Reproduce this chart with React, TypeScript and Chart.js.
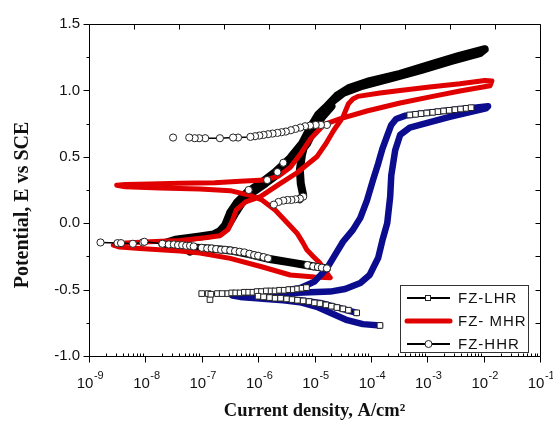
import React, { useEffect, useRef } from 'react';
import { Chart, registerables } from 'chart.js';

Chart.register(...registerables);

// ---------- axis ticks ----------
const xDecades = [1e-9, 1e-8, 1e-7, 1e-6, 1e-5, 1e-4, 1e-3, 1e-2, 1e-1];
const xExponents = ['-9', '-8', '-7', '-6', '-5', '-4', '-3', '-2', '-1'];
const yMajor = [-1, -0.5, 0, 0.5, 1, 1.5];
const yMinor = [-0.75, -0.25, 0.25, 0.75, 1.25];
const legendLabels = ['FZ-LHR', 'FZ- MHR', 'FZ-HHR'];

// ---------- FZ-LHR (blue thick trace) ----------
const lhrI = [
  1.45e-4, 7.2e-5, 3.8e-5, 1.9e-5, 1.1e-5, 5.5e-6, 2.8e-6, 1.4e-6, 9.5e-7, 4.8e-7, 3.5e-7,
  5.5e-7, 8.7e-7, 2.5e-6, 5.5e-6, 1.0e-5, 1.66e-5, 2.3e-5, 3.2e-5, 4.8e-5, 6.5e-5, 8.5e-5,
  1.1e-4, 1.35e-4, 1.6e-4, 1.95e-4, 2.3e-4, 2.8e-4, 4.1e-4, 7.4e-4, 2.5e-3, 5.7e-3, 1.2e-2,
  1.1e-2, 2.5e-3, 1.0e-3, 4.9e-4, 3.3e-4, 2.7e-4, 2.3e-4, 2.2e-4, 1.95e-4, 1.6e-4, 1.35e-4,
  9.5e-5, 6.5e-5, 3.5e-5, 1.9e-5, 8.3e-6, 3.7e-6, 1.6e-6, 7.2e-7, 4.5e-7,
  1.0e-6, 1.6e-6, 5.5e-6, 1.26e-5, 2.8e-5, 5.6e-5,
];
const lhrE = [
  -0.77, -0.76, -0.73, -0.675, -0.63, -0.595, -0.58, -0.57, -0.565, -0.555, -0.545,
  -0.53, -0.52, -0.51, -0.49, -0.44, -0.34, -0.24, -0.14, -0.05, 0.04, 0.17,
  0.33, 0.45, 0.56, 0.66, 0.74, 0.785, 0.81, 0.825, 0.85, 0.865, 0.88,
  0.865, 0.8, 0.755, 0.72, 0.665, 0.55, 0.36, 0.2, 0.0, -0.13, -0.26,
  -0.39, -0.45, -0.495, -0.515, -0.52, -0.525, -0.535, -0.545, -0.55,
  -0.555, -0.56, -0.58, -0.6, -0.64, -0.675,
];
// FZ-LHR square symbols (null = break)
const lhrSqI = [
  1.0e-7, 1.3e-7, 1.4e-7, 1.45e-7, 1.9e-7, 2.3e-7, 2.9e-7, 3.4e-7, 4.0e-7, 4.8e-7, 5.7e-7,
  6.8e-7, 8.1e-7, 9.6e-7, 1.15e-6, 1.4e-6, 1.7e-6, 2.0e-6, 2.4e-6, 2.9e-6, 3.5e-6, 4.2e-6,
  5.0e-6, 6.0e-6, 7.2e-6, null,
  1.0e-6, 1.25e-6, 1.6e-6, 2.0e-6, 2.5e-6, 3.2e-6, 4.0e-6, 5.0e-6, 6.3e-6, 8.0e-6, 1.0e-5,
  1.25e-5, 1.6e-5, 2.0e-5, 2.5e-5, 3.2e-5, 4.0e-5, 5.6e-5, null,
  4.9e-4, 6.2e-4, 7.8e-4, 9.8e-4, 1.25e-3, 1.55e-3, 1.95e-3, 2.45e-3, 3.1e-3, 3.9e-3, 4.9e-3,
  6.0e-3, null,
  1.45e-4,
];
const lhrSqE = [
  -0.53, -0.53, -0.575, -0.535, -0.53, -0.53, -0.53, -0.525, -0.525, -0.525, -0.52,
  -0.52, -0.52, -0.515, -0.515, -0.51, -0.51, -0.51, -0.505, -0.505, -0.5, -0.5,
  -0.495, -0.49, -0.485, null,
  -0.55, -0.555, -0.56, -0.565, -0.565, -0.57, -0.575, -0.58, -0.585, -0.59, -0.6,
  -0.605, -0.615, -0.625, -0.635, -0.645, -0.655, -0.675, null,
  0.815, 0.82, 0.825, 0.83, 0.835, 0.84, 0.845, 0.85, 0.855, 0.86, 0.865,
  0.87, null,
  -0.77,
];

// ---------- FZ-MHR (red) ----------
const mhrI = [
  1.9e-5, 1.0e-5, 3.7e-6, 1.2e-6, 3.2e-7, 9.3e-8, 4.1e-8, 1.8e-8, 8.0e-9, 3.5e-9, 2.7e-9,
  4.4e-9, 1.2e-8, 4.1e-8, 1.15e-7, 2.1e-7, 2.9e-7, 3.5e-7, 4.1e-7, 6.0e-7, 1.1e-6, 2.3e-6,
  4.9e-6, 1.1e-5, 1.6e-5, 2.2e-5, 3.2e-5, 4.0e-5, 4.8e-5, 5.9e-5, 1.45e-4, 3.3e-4, 1.1e-3,
  3.8e-3, 1.05e-2, 1.4e-2,
  1.3e-2, 3.8e-3, 1.25e-3, 3.3e-4, 8.5e-5, 2.8e-5, 1.5e-5, 8.3e-6, 5.5e-6, 3.7e-6, 2.3e-6,
  1.3e-6, 4.8e-7, 1.7e-7, 4.1e-8, 1.2e-8, 4.4e-9, 3.1e-9, 4.4e-9, 1.8e-8, 9.3e-8, 3.2e-7,
  7.2e-7, 1.17e-6, 2.0e-6, 2.95e-6, 4.9e-6, 6.3e-6, 7.3e-6, 9.5e-6, 1.25e-5, 1.5e-5, 1.9e-5,
];
const mhrE = [
  -0.41, -0.405, -0.39, -0.33, -0.265, -0.225, -0.21, -0.2, -0.19, -0.18, -0.165,
  -0.15, -0.14, -0.13, -0.11, -0.095, -0.05, 0.02, 0.1, 0.16, 0.2, 0.29,
  0.38, 0.5, 0.6, 0.7, 0.8, 0.9, 0.935, 0.955, 0.98, 1.0, 1.025,
  1.05, 1.075, 1.07,
  1.035, 0.995, 0.955, 0.905, 0.845, 0.785, 0.745, 0.63, 0.515, 0.42, 0.355,
  0.325, 0.315, 0.305, 0.3, 0.295, 0.292, 0.285, 0.275, 0.265, 0.258, 0.245,
  0.21, 0.175, 0.1, 0.024, -0.075, -0.15, -0.2, -0.25, -0.3, -0.35, -0.41,
];

// ---------- FZ-HHR (black thick trace, null = break) ----------
const hhrI = [
  1.66e-5, 8.3e-6, 3.7e-6, 1.6e-6, 7.2e-7, 3.2e-7, 1.4e-7, 8.0e-8, 6.2e-8, 5.0e-8, 3.0e-8,
  2.0e-8, 3.4e-8, 9.3e-8, 1.6e-7, 2.1e-7, 2.6e-7, 3.2e-7, 4.2e-7, 6.3e-7, 1.1e-6, 2.0e-6,
  3.7e-6, 6.0e-6, 8.3e-6, 1.15e-5, 1.66e-5, 2.5e-5, 4.2e-5, 9.5e-5, 3.3e-4, 1.25e-3, 3.7e-3,
  1.05e-2,
  8.6e-3, 2.6e-3, 7.4e-4, 2.7e-4, 1.2e-4, 6.5e-5, 3.2e-5, 1.9e-5, 1.15e-5, 9.0e-6, 7.0e-6,
  6.0e-6, 5.5e-6, 5.7e-6, 6.3e-6, 5.5e-6, null,
  2.9e-7, 4.0e-7, 5.2e-7, 7.8e-7, 1.35e-6, 2.5e-6, 4.6e-6, 7.4e-6, 1.0e-5, 1.4e-5, 2.0e-5,
];
const hhrE = [
  -0.34, -0.32, -0.295, -0.27, -0.235, -0.205, -0.19, -0.185, -0.215, -0.18, -0.165,
  -0.155, -0.125, -0.1, -0.085, -0.06, -0.015, 0.08, 0.155, 0.23, 0.3, 0.385,
  0.49, 0.6, 0.715, 0.805, 0.88, 0.96, 1.02, 1.07, 1.125, 1.2, 1.26,
  1.31,
  1.28, 1.22, 1.15, 1.1, 1.06, 1.03, 0.98, 0.905, 0.815, 0.74, 0.63,
  0.515, 0.4, 0.3, 0.21, 0.18, null,
  -0.02, 0.08, 0.155, 0.23, 0.3, 0.385, 0.49, 0.6, 0.715, 0.805, 0.88,
];
// FZ-HHR circle symbols (null = break)
const hhrCiI = [
  1.6e-9, 3.2e-9, 3.7e-9, 6.0e-9, 9.0e-9, 9.6e-9, 2.0e-8, 2.6e-8, 3.2e-8, 3.8e-8, 4.5e-8,
  5.3e-8, 6.2e-8, 7.2e-8, null,
  1.0e-7, 1.25e-7, 1.5e-7, 1.8e-7, 2.2e-7, 2.6e-7, 3.2e-7, 3.9e-7, 4.7e-7, 5.7e-7, 7.0e-7,
  8.5e-7, 1.0e-6, 1.25e-6, 1.5e-6, null,
  7.5e-6, 9.5e-6, 1.15e-5, 1.35e-5, 1.66e-5, null,
  1.66e-5, 1.3e-5, 1.05e-5, 8.3e-6, 6.8e-6, 5.6e-6, 4.6e-6, 3.8e-6, 3.1e-6, 2.6e-6, 2.2e-6,
  1.8e-6, 1.5e-6, 1.25e-6, 1.05e-6, 8.8e-7, 7.3e-7, 4.4e-7, 3.6e-7, 2.1e-7, 1.15e-7, 9.0e-8,
  7.5e-8, 6.0e-8, null,
  3.1e-8, null,
  6.3e-6, 5.5e-6, 4.6e-6, 3.9e-6, 3.3e-6, 2.8e-6, 2.3e-6, 1.9e-6, null,
  6.8e-7, null, 1.45e-6, null, 2.2e-6, null, 2.8e-6,
];
const hhrCiE = [
  -0.145, -0.15, -0.15, -0.155, -0.145, -0.14, -0.155, -0.16, -0.16, -0.165, -0.165,
  -0.17, -0.17, -0.175, null,
  -0.185, -0.19, -0.19, -0.195, -0.2, -0.2, -0.205, -0.21, -0.215, -0.22, -0.23,
  -0.24, -0.245, -0.255, -0.265, null,
  -0.315, -0.325, -0.33, -0.335, -0.34, null,
  0.74, 0.74, 0.74, 0.735, 0.73, 0.72, 0.71, 0.7, 0.69, 0.685, 0.68,
  0.675, 0.67, 0.665, 0.66, 0.655, 0.65, 0.645, 0.645, 0.64, 0.64, 0.64,
  0.64, 0.645, null,
  0.645, null,
  0.2, 0.185, 0.18, 0.175, 0.175, 0.17, 0.16, 0.14, null,
  0.25, null, 0.325, null, 0.385, null, 0.455,
];

const BLUE = '#0c0c8e';
const RED = '#e10000';
const BLACK = '#000000';

const pts = (I: (number | null)[], E: (number | null)[]) =>
  I.map((x, i) => ({ x, y: E[i] }));

const framePlugin = {
  id: 'frameTicksLegend',
  afterDraw(chart: any) {
    const { ctx, chartArea: a, scales } = chart;
    const xs = scales.x;
    const ys = scales.y;
    const L = Math.round(a.left) + 0.5;
    const R = Math.round(a.right) + 0.5;
    const T = Math.round(a.top) + 0.5;
    const B = Math.round(a.bottom) + 0.5;
    ctx.save();
    ctx.strokeStyle = '#000';
    ctx.lineWidth = 1;
    ctx.beginPath();
    ctx.rect(L, T, R - L, B - T);
    yMajor.forEach((v) => {
      const p = Math.round(ys.getPixelForValue(v)) + 0.5;
      ctx.moveTo(L - 6, p);
      ctx.lineTo(L, p);
    });
    yMinor.forEach((v) => {
      const p = Math.round(ys.getPixelForValue(v)) + 0.5;
      ctx.moveTo(L - 3, p);
      ctx.lineTo(L, p);
    });
    [...yMajor, ...yMinor].forEach((v) => {
      const p = Math.round(ys.getPixelForValue(v)) + 0.5;
      ctx.moveTo(R - 5, p);
      ctx.lineTo(R, p);
    });
    xDecades.forEach((v, i) => {
      const p = Math.round(xs.getPixelForValue(v)) + 0.5;
      ctx.moveTo(p, B);
      ctx.lineTo(p, B + 6);
      if (i < xDecades.length - 1) {
        for (let m = 2; m <= 9; m++) {
          const q = Math.round(xs.getPixelForValue(v * m)) + 0.5;
          ctx.moveTo(q, B);
          ctx.lineTo(q, B - 3);
        }
      }
    });
    for (let k = 1; k < 10; k++) {
      const p = Math.round(a.left + (k * (a.right - a.left)) / 10) + 0.5;
      ctx.moveTo(p, T);
      ctx.lineTo(p, T + 5);
    }
    ctx.stroke();

    // x tick labels: 10 with raised exponent
    ctx.fillStyle = '#111';
    ctx.textBaseline = 'alphabetic';
    ctx.textAlign = 'left';
    const baseFont = "15px 'Liberation Sans', Arial, sans-serif";
    const expFont = "11px 'Liberation Sans', Arial, sans-serif";
    xDecades.forEach((v, i) => {
      const p = xs.getPixelForValue(v);
      ctx.font = baseFont;
      const w1 = ctx.measureText('10').width;
      ctx.font = expFont;
      const w2 = ctx.measureText(xExponents[i]).width;
      const x0 = p + 1 - (w1 + w2) / 2;
      ctx.font = baseFont;
      ctx.fillText('10', x0, 388);
      ctx.font = expFont;
      ctx.fillText(xExponents[i], x0 + w1 + 0.5, 379);
    });

    // legend box
    const bx = 400.5, by = 285.5, bw = 128, bh = 67;
    ctx.fillStyle = '#fff';
    ctx.fillRect(bx, by, bw, bh);
    ctx.strokeStyle = '#333';
    ctx.strokeRect(bx, by, bw, bh);
    const rows = [298, 321, 344];
    ctx.font = "15px 'Liberation Sans', Arial, sans-serif";
    ctx.textBaseline = 'middle';
    ctx.textAlign = 'left';
    (ctx as any).letterSpacing = '1px';
    rows.forEach((ry, i) => {
      ctx.beginPath();
      if (i === 1) {
        ctx.strokeStyle = RED;
        ctx.lineWidth = 5;
        ctx.lineCap = 'round';
      } else {
        ctx.strokeStyle = '#000';
        ctx.lineWidth = 2;
        ctx.lineCap = 'butt';
      }
      ctx.moveTo(407, ry);
      ctx.lineTo(450, ry);
      ctx.stroke();
      ctx.lineWidth = 1;
      ctx.strokeStyle = '#222';
      ctx.fillStyle = '#fff';
      if (i === 0) {
        ctx.fillRect(425.5, ry - 2.5, 5, 5);
        ctx.strokeRect(425.5, ry - 2.5, 5, 5);
      } else if (i === 2) {
        ctx.beginPath();
        ctx.arc(428.5, ry, 3.5, 0, Math.PI * 2);
        ctx.fill();
        ctx.stroke();
      }
      ctx.fillStyle = '#111';
      ctx.fillText(legendLabels[i], 458, ry + 1);
    });
    ctx.restore();
  },
};

export default function App() {
  const ref = useRef<HTMLCanvasElement | null>(null);
  useEffect(() => {
    if (!ref.current) return;
    const thick = (data: any, color: string, w: number, order: number) => ({
      data,
      showLine: true,
      borderColor: color,
      backgroundColor: color,
      borderWidth: w,
      pointRadius: 0,
      borderJoinStyle: 'round',
      borderCapStyle: 'round',
      tension: 0,
      order,
    });
    const sym = (data: any, style: string, r: number, order: number) => ({
      data,
      showLine: true,
      borderColor: '#000',
      borderWidth: 1.5,
      pointStyle: style,
      pointRadius: r,
      pointBackgroundColor: '#fff',
      pointBorderColor: '#222',
      pointBorderWidth: 1,
      order,
    });
    const chart = new Chart(ref.current, {
      type: 'scatter',
      data: {
        datasets: [
          { label: 'FZ-HHR line', ...thick(pts(hhrI, hhrE), BLACK, 8, 6) },
          { label: 'FZ-MHR', ...thick(pts(mhrI, mhrE), RED, 5, 5) },
          { label: 'FZ-LHR line', ...thick(pts(lhrI, lhrE), BLUE, 6.5, 4) },
          { label: 'FZ-LHR', ...sym(pts(lhrSqI, lhrSqE), 'rect', 4, 2) },
          { label: 'FZ-HHR', ...sym(pts(hhrCiI, hhrCiE), 'circle', 3.6, 1) },
        ] as any,
      },
      options: {
        animation: false,
        responsive: false,
        devicePixelRatio: 1,
        events: [],
        layout: { padding: { top: 24, right: 13, left: 0, bottom: 0 } },
        plugins: { legend: { display: false }, tooltip: { enabled: false } },
        scales: {
          x: {
            type: 'logarithmic',
            min: 1e-9,
            max: 1e-1,
            afterBuildTicks: (s: any) => {
              s.ticks = xDecades.map((v) => ({ value: v }));
            },
            afterFit: (s: any) => {
              s.height = 68;
            },
            grid: { display: false, drawTicks: false },
            border: { display: false },
            ticks: { display: false },
            title: {
              display: true,
              text: 'Current density, A/cm\u00B2',
              color: '#111',
              font: { family: "'Liberation Serif', 'Times New Roman', serif", size: 18.5, weight: 'bold' },
              padding: { top: 0, bottom: 2 },
            },
          },
          y: {
            type: 'linear',
            min: -1,
            max: 1.5,
            afterBuildTicks: (s: any) => {
              s.ticks = yMajor.map((v) => ({ value: v }));
            },
            afterFit: (s: any) => {
              s.width = 89;
            },
            grid: { display: false, drawTicks: false },
            border: { display: false },
            ticks: {
              padding: 9,
              color: '#111',
              font: { family: "'Liberation Sans', Arial, sans-serif", size: 15 },
              callback: (v: any) => Number(v).toFixed(1),
            },
            title: {
              display: true,
              text: 'Potential, E vs SCE\u00A0\u00A0\u00A0\u00A0\u00A0\u00A0',
              color: '#111',
              font: { family: "'Liberation Serif', 'Times New Roman', serif", size: 20, weight: 'bold' },
              padding: { top: 11, bottom: 0 },
            },
          },
        },
      } as any,
      plugins: [framePlugin],
    });
    return () => chart.destroy();
  }, []);
  return (
    <div style={{ position: 'fixed', left: 0, top: 0, width: 553, height: 424, background: '#fff' }}>
      <canvas ref={ref} width={553} height={424} style={{ display: 'block' }} />
    </div>
  );
}
